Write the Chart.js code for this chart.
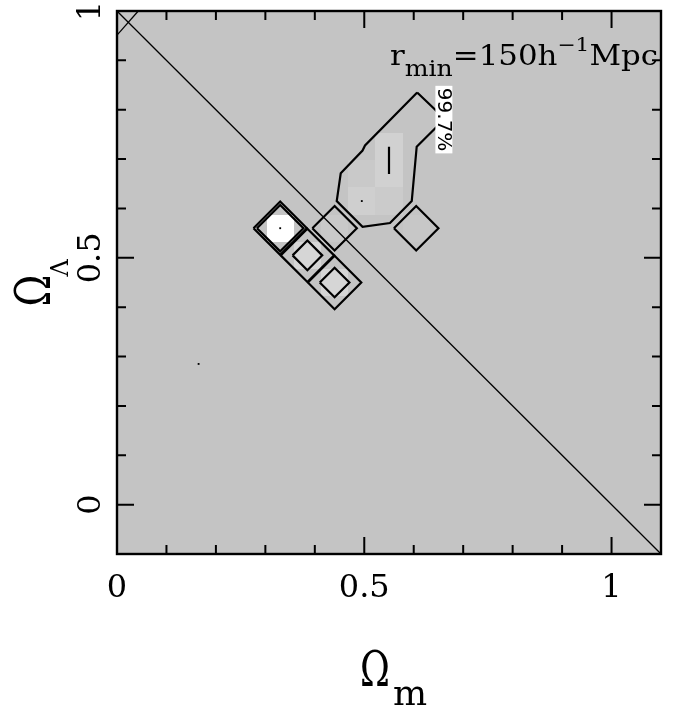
<!DOCTYPE html>
<html>
<head>
<meta charset="utf-8">
<script src="https://cdn.jsdelivr.net/npm/chart.js@4.4.1/dist/chart.umd.min.js"></script>
<style>
html, body { margin: 0; padding: 0; background: #fff; }
</style>
</head>
<body>
<canvas id="c" width="679" height="711"></canvas>
<script>
// likelihood image: grid step and the cells that are lighter than the background
const cellStep = 0.055;
const bgGrey = 196;
const cellOm = [0.33, 0.385, 0.44, 0.44, 0.55, 0.55, 0.495, 0.495, 0.55, 0.605];
const cellOL = [0.56, 0.505, 0.45, 0.56, 0.725, 0.67, 0.67, 0.615, 0.615, 0.56];
const cellGrey = [255, 214, 214, 201, 209, 209, 201, 207, 203, 199];

// contours (Omega_m, Omega_Lambda)
const contour997 = [[0.607, 0.835], [0.643, 0.8005], [0.662, 0.78], [0.643, 0.762], [0.606, 0.725],
  [0.596, 0.615], [0.552, 0.5705], [0.4965, 0.563], [0.4443, 0.615], [0.4524, 0.6712],
  [0.4965, 0.7174], [0.5015, 0.7275], [0.607, 0.835]];
const ridge = [[0.55, 0.725], [0.55, 0.67]];
// single-cell contours: centre and half-diagonal
const peakOm = [0.33, 0.33, 0.385, 0.385, 0.44, 0.44, 0.44, 0.605];
const peakOL = [0.56, 0.56, 0.505, 0.505, 0.45, 0.45, 0.56, 0.56];
const peakHalf = [0.054, 0.047, 0.054, 0.03, 0.054, 0.03, 0.045, 0.045];
const dotOm = [0.33, 0.495, 0.165];
const dotOL = [0.56, 0.615, 0.285];

// reference lines
const flatLine = [[0, 1], [1.1, -0.1]];
const cornerLine = [[0, 0.951], [0.043, 1.0]];

// axes
const xMinor = [0.1, 0.2, 0.3, 0.4, 0.6, 0.7, 0.8, 0.9, 1.0];
const xMajor = [0, 0.5, 1];
const xLabels = ['0', '0.5', '1'];
const yMinor = [-0.1, 0.1, 0.2, 0.3, 0.4, 0.6, 0.7, 0.8, 0.9];
const yMajor = [0, 0.5, 1];
const yLabels = ['0', '0.5', '1'];

function grey(v) { return 'rgb(' + v + ',' + v + ',' + v + ')'; }
function diamond(cx, cy, h) {
    return [[cx - h, cy], [cx, cy + h], [cx + h, cy], [cx, cy - h], [cx - h, cy]];
}
const toXY = pts => pts.map(p => ({ x: p[0], y: p[1] }));
const lineDs = (pts, w) => ({
    data: toXY(pts), showLine: true, borderColor: '#000', borderWidth: w,
    pointRadius: 0, fill: false, tension: 0
});

const serif = '"DejaVu Serif", serif';

const decor = {
    id: 'decor',
    beforeDatasetsDraw(chart) {
        const { ctx, chartArea: a, scales: { x, y } } = chart;
        ctx.save();
        ctx.fillStyle = grey(bgGrey);
        ctx.fillRect(a.left, a.top, a.right - a.left, a.bottom - a.top);
        cellOm.forEach((om, i) => {
            const x0 = Math.round(x.getPixelForValue(om - cellStep / 2));
            const x1 = Math.round(x.getPixelForValue(om + cellStep / 2));
            const y0 = Math.round(y.getPixelForValue(cellOL[i] + cellStep / 2));
            const y1 = Math.round(y.getPixelForValue(cellOL[i] - cellStep / 2));
            ctx.fillStyle = grey(cellGrey[i]);
            ctx.fillRect(x0, y0, x1 - x0, y1 - y0);
        });
        ctx.restore();
    },
    afterDatasetsDraw(chart) {
        const { ctx, scales: { x, y } } = chart;
        // 99.7% label on the contour
        ctx.save();
        ctx.translate(x.getPixelForValue(0.662), y.getPixelForValue(0.78));
        ctx.rotate(Math.PI / 2);
        ctx.font = '20px "DejaVu Sans"';
        const w = ctx.measureText('99.7%').width;
        ctx.fillStyle = '#fff';
        ctx.fillRect(-w / 2 - 2, -8, w + 4, 17);
        ctx.fillStyle = '#000';
        ctx.textAlign = 'center';
        ctx.textBaseline = 'middle';
        ctx.fillText('99.7%', 0, 1);
        ctx.restore();
    },
    afterDraw(chart) {
        const { ctx, chartArea: a, scales: { x, y } } = chart;
        ctx.save();
        ctx.strokeStyle = '#000';
        ctx.lineWidth = 2.4;
        ctx.strokeRect(a.left, a.top, a.right - a.left, a.bottom - a.top);
        ctx.lineWidth = 2;
        ctx.beginPath();
        const tickX = (v, len) => {
            const p = x.getPixelForValue(v);
            ctx.moveTo(p, a.bottom); ctx.lineTo(p, a.bottom - len);
            ctx.moveTo(p, a.top); ctx.lineTo(p, a.top + len);
        };
        const tickY = (v, len) => {
            const p = y.getPixelForValue(v);
            ctx.moveTo(a.left, p); ctx.lineTo(a.left + len, p);
            ctx.moveTo(a.right, p); ctx.lineTo(a.right - len, p);
        };
        xMinor.forEach(v => tickX(v, 9));
        xMajor.forEach(v => tickX(v, 17));
        yMinor.forEach(v => tickY(v, 9));
        yMajor.forEach(v => tickY(v, 17));
        ctx.stroke();

        // tick labels
        ctx.fillStyle = '#000';
        ctx.font = '32px ' + serif;
        ctx.textAlign = 'center';
        ctx.textBaseline = 'alphabetic';
        xMajor.forEach((v, i) => ctx.fillText(xLabels[i], x.getPixelForValue(v), a.bottom + 43));
        yMajor.forEach((v, i) => {
            ctx.save();
            ctx.translate(a.left - 17, y.getPixelForValue(v));
            ctx.rotate(-Math.PI / 2);
            ctx.fillText(yLabels[i], 0, 0);
            ctx.restore();
        });

        // axis titles
        const cx = (a.left + a.right) / 2;
        const cy = (a.top + a.bottom) / 2;
        ctx.textAlign = 'left';
        ctx.save();
        ctx.translate(cx - 29, a.bottom + 132);
        ctx.save();
        ctx.scale(0.75, 1);
        ctx.font = '48px ' + serif;
        ctx.fillText('\u03A9', 0, 0);
        ctx.restore();
        ctx.font = '36px ' + serif;
        ctx.fillText('m', 33, 19);
        ctx.restore();

        ctx.save();
        ctx.translate(a.left - 67, cy + 24);
        ctx.rotate(-Math.PI / 2);
        ctx.save();
        ctx.scale(0.8, 1);
        ctx.font = '48px ' + serif;
        ctx.fillText('\u03A9', 0, 0);
        ctx.restore();
        ctx.font = '24px ' + serif;
        ctx.fillText('\u039B', 30, 18);
        ctx.restore();

        // r_min annotation
        const parts = [['r', 27, 0], ['min', 22, 11], ['=150h', 27, 0], ['\u22121', 19, -14], ['Mpc', 27, 0]];
        let total = 0;
        parts.forEach(p => { ctx.font = p[1] + 'px ' + serif; total += ctx.measureText(p[0]).width; });
        const x0 = x.getPixelForValue(0.552);
        const x1 = x.getPixelForValue(1.094);
        ctx.save();
        ctx.translate(x0, y.getPixelForValue(0.89));
        ctx.scale((x1 - x0) / total, 1);
        let pos = 0;
        parts.forEach(p => {
            ctx.font = p[1] + 'px ' + serif;
            ctx.fillText(p[0], pos, p[2]);
            pos += ctx.measureText(p[0]).width;
        });
        ctx.restore();
        ctx.restore();
    }
};

const datasets = [
    lineDs(flatLine, 1.3),
    lineDs(cornerLine, 1.3),
    lineDs(contour997, 2.2),
    lineDs(ridge, 2.2)
];
peakOm.forEach((om, i) => datasets.push(lineDs(diamond(om, peakOL[i], peakHalf[i]), 2.2)));
datasets.push({
    data: dotOm.map((om, i) => ({ x: om, y: dotOL[i] })),
    showLine: false, pointStyle: 'rect', pointRadius: 1.3,
    backgroundColor: '#000', borderWidth: 0
});

new Chart(document.getElementById('c'), {
    type: 'scatter',
    data: { datasets: datasets },
    options: {
        responsive: false,
        animation: false,
        devicePixelRatio: 1,
        layout: { padding: { left: 117, right: 18, top: 11, bottom: 157 } },
        scales: {
            x: { type: 'linear', min: 0, max: 1.1, display: false },
            y: { type: 'linear', min: -0.1, max: 1.0, display: false }
        },
        plugins: { legend: { display: false }, tooltip: { enabled: false } }
    },
    plugins: [decor]
});
</script>
</body>
</html>
